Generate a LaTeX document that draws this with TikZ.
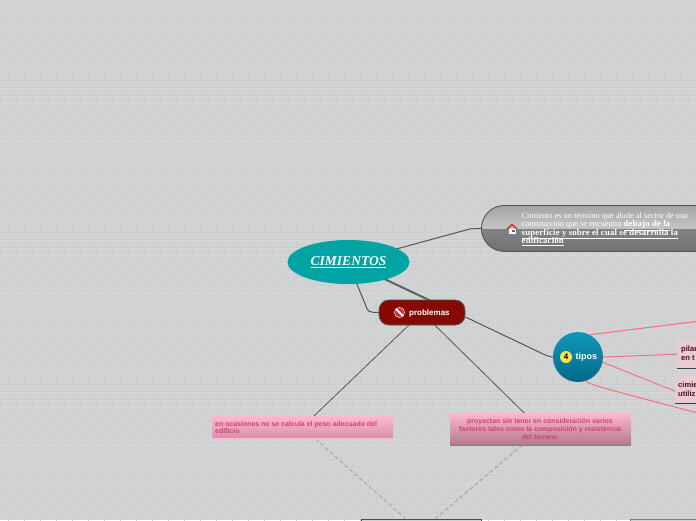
\documentclass[tikz,border=0pt]{standalone}
\usepackage{fontspec}
\setmainfont{Liberation Serif}
\setsansfont{Liberation Sans}
\usetikzlibrary{shapes.geometric,shapes.misc,calc}
\pgfdeclarelayer{brick}
\pgfdeclarelayer{edges}
\pgfsetlayers{brick,edges,main}
\definecolor{wallbg}{HTML}{D1D2D4}
\definecolor{wallline}{HTML}{CBCCCE}
\definecolor{walllite}{HTML}{D6D7D9}
\definecolor{teal0}{HTML}{02A3A3}
\definecolor{edgegray}{HTML}{555558}
\definecolor{dashgray}{HTML}{A0A2A6}
\definecolor{prored}{HTML}{860A02}
\definecolor{pinkline}{HTML}{F4707E}
\definecolor{pinktext}{HTML}{CF3F7C}
\definecolor{pinkbox}{HTML}{E9CBD0}
\definecolor{darktext}{HTML}{4A0E22}
\definecolor{dga}{HTML}{A4A4A6}
\definecolor{dgb}{HTML}{C4C4C6}
\definecolor{dgc}{HTML}{828284}
\definecolor{dgd}{HTML}{727274}
\definecolor{tipostop}{HTML}{1298BA}
\definecolor{tiposbot}{HTML}{046888}
\definecolor{pinktop}{HTML}{FFB8CE}
\definecolor{pinkmid}{HTML}{D692AA}
\definecolor{pinkbot}{HTML}{B2788C}
\definecolor{housered}{HTML}{CD3C32}
\definecolor{houseblue}{HTML}{326E96}
\definecolor{nored}{HTML}{D72D3C}
\definecolor{numyel}{HTML}{FAE150}
\pgfdeclareverticalshading{descshade}{100bp}{color(0bp)=(dgd); color(25bp)=(dgd); color(49.5bp)=(dgc); color(50.5bp)=(dgb); color(75bp)=(dga); color(100bp)=(dga)}
\newcommand{\boldlead}[1]{{\fontsize{8.75}{8.3}\selectfont\bfseries\addfontfeature{LetterSpace=2}\underline{#1}}}
\tikzset{
  x=1pt,y=-1pt,
  edgeline/.style={edgegray,line width=1pt},
  dashline/.style={dashgray,line width=.9pt,dash pattern=on 4pt off 2.5pt},
  pinkedge/.style={pinkline,line width=1pt},
  childbox/.style={rectangle,draw=none,inner sep=0pt},
  childtext/.style={inner sep=0pt,text=pinktext,font=\sffamily\bfseries\fontsize{6.95}{7.6}\selectfont},
  desctext/.style={anchor=base west,inner sep=0pt,text=white,font=\fontsize{8.3}{8.3}\selectfont},
  sidebox/.style={rectangle,anchor=north west,fill=pinkbox,inner sep=0pt,minimum width=60pt},
  sidetext/.style={anchor=west,inner sep=0pt,align=left,text=darktext,font=\sffamily\bfseries\fontsize{7.6}{8.6}\selectfont},
}
\begin{document}
\begin{tikzpicture}
\useasboundingbox (0,0) rectangle (696,520);
\clip (0,0) rectangle (696,520);
\begin{pgfonlayer}{brick}
\fill[wallbg] (0,0) rectangle (696,520);
\foreach \r in {0,...,68}{
  \pgfmathsetmacro{\yy}{\r*7.6+4}
  \draw[wallline,line width=.5pt] (0,\yy) -- (696,\yy);
  \draw[walllite,line width=.5pt] (0,\yy+.8) -- (696,\yy+.8);
  \pgfmathsetmacro{\off}{mod(\r,2)*8}
  \foreach \c in {0,...,44}{
    \draw[wallline,line width=.4pt] (\off+\c*16,\yy+1) -- (\off+\c*16,\yy+7.6);
  }
}
\end{pgfonlayer}

% nodes
\node[ellipse,fill=teal0,minimum width=122pt,minimum height=44pt,inner sep=0pt] (title) at (348.5,262)
  {\textcolor{white}{\fontsize{13.5}{15}\selectfont\itshape\bfseries\underline{CIMIENTOS}}};
\node[rectangle,rounded corners=23pt,draw=edgegray,line width=.9pt,shading=descshade,minimum width=260pt,minimum height=46pt,anchor=north west,inner sep=0pt] (desc) at (481,205) {};
\node[desctext] (descone) at (521.5,218.5) {Cimiento es un término que alude al sector de una};
\node[desctext] (desctwo) at (521.5,226.7) {construcción que se encuentra \boldlead{debajo de la}};
\node[desctext] (descthree) at (521.5,235.3) {\boldlead{superficie y sobre el cual se desarrolla la}};
\node[desctext] (descfour) at (521.5,243.8) {\boldlead{edificación}};
\node[rectangle,rounded corners=10pt,draw=edgegray,line width=.8pt,fill=prored,minimum width=86pt,minimum height=25pt,inner sep=0pt] (prob) at (422,312.5) {};
\node[anchor=west,inner sep=0pt,text=white,font=\sffamily\bfseries\fontsize{8}{9}\selectfont] (problabel) at (409,313) {problemas};
\node[circle,minimum size=50pt,inner sep=0pt,draw=none,top color=tipostop,bottom color=tiposbot] (tipos) at (578,357) {};
\node[anchor=west,inner sep=0pt,text=white,font=\sffamily\bfseries\fontsize{9}{10}\selectfont] (tiposlabel) at (575.5,357) {tipos};
\node[sidebox,minimum height=28pt] (pilar) at (677,340) {};
\node[sidetext] (pilartext) at (681,353.5) {pilar\\en t};
\node[sidebox,minimum height=27pt] (cimie) at (675,376) {};
\node[sidetext] (cimietext) at (678,389) {cimie\\utiliz};
\draw[black!75,line width=.7pt] (pilar.south west) -- (pilar.south east);
\draw[black!75,line width=.7pt] (cimie.south west) -- (cimie.south east);
\node[childbox,minimum width=181pt,minimum height=22pt,top color=pinktop,bottom color=pinkmid] (ch1) at (302.5,427) {};
\fill[pinktop] (212,438) rectangle (393,440);
\node[childtext,anchor=west,align=left] (ch1text) at (215,427.5) {en ocasiones no se calcula el peso adecuado del\\edificio};
\node[childbox,minimum width=181pt,minimum height=32pt,top color=pinktop,bottom color=pinkbot] (ch2) at (540.5,429) {};
\draw[gray,line width=.8pt] (ch2.south west) -- (ch2.south east);
\node[childtext,align=center] (ch2text) at (540,429) {proyectan sin tener en consideración varios\\factores tales como la composición y resistencia\\del terreno};
\node[rectangle,draw=black!70,line width=.8pt,fill=wallbg,minimum width=120pt,minimum height=20pt,anchor=north west,inner sep=0pt] (bottoma) at (361,518.5) {};
\node[rectangle,draw=gray,line width=.8pt,fill=wallbg,minimum width=80pt,minimum height=20pt,anchor=north west,inner sep=0pt] (bottomb) at (630,519) {};

% icons
\begin{scope}[shift={(512,228.5)}]
  \fill[white] (-3.5,0) rectangle (3.5,5);
  \fill[housered] (-6,0.5) -- (0,-5) -- (6,0.5) -- (4.5,1.2) -- (0,-2.8) -- (-4.5,1.2) -- cycle;
  \fill[houseblue] (0.3,1.5) rectangle (2.6,3.8);
\end{scope}
\begin{scope}[shift={(399.5,312.5)}]
  \fill[white] (0,0) circle (5.4);
  \fill[nored] (0,0) circle (4.8);
  \draw[white,line width=1.9pt] (-3.4,-3.4) -- (3.4,3.4);
\end{scope}
\begin{scope}[shift={(566,357)}]
  \fill[numyel] (0,0) circle (6);
  \node[inner sep=0pt,text=black,font=\sffamily\bfseries\fontsize{8}{9}\selectfont] (four) at (0,0) {4};
\end{scope}

% connectors
\begin{pgfonlayer}{edges}
\draw[edgeline] (title.center) -- ($(desc.west)+(-11,0.5)$) -- (desc.west);
\draw[edgegray,line width=2pt,opacity=.9] (title.center) -- ($(prob.center)+(8,-12)$);
\draw[edgeline] ($(title.center)+(7.5,20)$) -- (366,306) .. controls (367.5,311.5) and (369,312.5) .. (prob.west);
\draw[edgeline] ($(prob.east)+(0,4.5)$) -- (540,352.5) .. controls (544,354.5) and (548,356.5) .. (tipos.west);
\draw[pinkedge] (tipos.62) -- (696,321.5);
\draw[pinkedge] (tipos.east) -- (pilar.west);
\draw[pinkedge] (tipos.-12) -- ($(cimie.west)+(0,1.5)$);
\draw[pinkedge] (tipos.-72) .. controls (590,384.5) and (595,386) .. (696,412.5);
\draw[edgeline,line width=.8pt] (prob.center) -- (ch1.center);
\draw[edgeline,line width=.8pt] (prob.center) -- (ch2.center);
\draw[dashline] ($(ch1.center)+(13,12)$) -- ($(bottoma.north)+(-16,0)$);
\draw[dashline] ($(ch2.center)+(-18,16)$) -- ($(bottoma.north)+(14,0)$);
\end{pgfonlayer}
\end{tikzpicture}
\end{document}
